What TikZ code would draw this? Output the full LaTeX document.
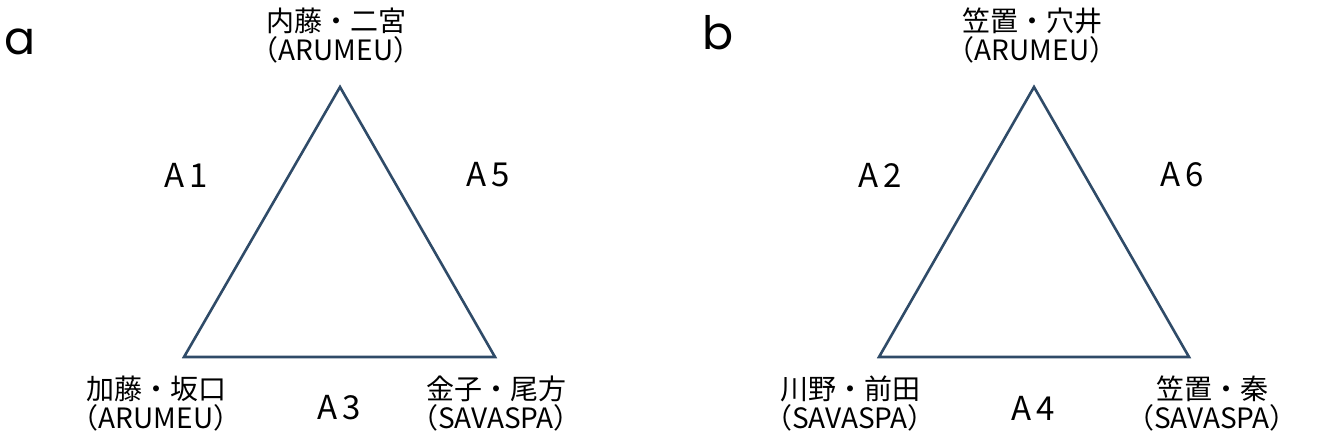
\documentclass[tikz,border=0pt]{standalone}
\usepackage{fontspec}
\setmainfont{Noto Sans CJK JP}
\newfontfamily\panelfont{Poppins}
\usetikzlibrary{positioning}
\definecolor{edgeblue}{HTML}{2F4B68}
\tikzset{
    side/.style={draw=edgeblue, line width=1.3pt, line join=miter},
    member/.style={align=center, inner sep=0pt, font=\fontsize{14}{14.5}\selectfont},
    pair/.style={inner sep=0pt, font=\fontsize{16.5}{16.5}\selectfont},
    panel/.style={inner sep=0pt, anchor=base west, font=\panelfont\fontsize{23}{23}\selectfont},
}

\begin{document}
\begin{tikzpicture}
    [x=0.5pt, y=-0.5pt]
    \useasboundingbox (0,0) rectangle (1322,443);

    % panel a
    \node [panel] (pa) at (4,55) {a};
    \coordinate (a-top) at (340,87);
    \coordinate (a-left) at (184,357);
    \coordinate (a-right) at (495,357);
    \draw [side] (a-top) -- (a-left) -- (a-right) -- cycle;

    \node [member] (a-m1) at (336,36) {内藤・二宮\\（ARUMEU）};
    \node [member] (a-m2) at (156,404) {加藤・坂口\\（ARUMEU）};
    \node [member] (a-m3) at (496,404) {金子・尾方\\（SAVASPA）};

    \node [pair] (a1) at (186,175) {A\,1};
    \node [pair] (a5) at (488,175) {A\,5};
    \node [pair] (a3) at (339,408) {A\,3};

    % panel b
    \node [panel] (pb) at (702,50) {b};
    \coordinate (b-top) at (1034,87);
    \coordinate (b-left) at (879,357);
    \coordinate (b-right) at (1189,357);
    \draw [side] (b-top) -- (b-left) -- (b-right) -- cycle;

    \node [member] (b-m1) at (1032,36) {笠置・穴井\\（ARUMEU）};
    \node [member] (b-m2) at (850,404) {川野・前田\\（SAVASPA）};
    \node [member] (b-m3) at (1212,404) {笠置・秦\\（SAVASPA）};

    \node [pair] (a2) at (880,175) {A\,2};
    \node [pair] (a6) at (1182,175) {A\,6};
    \node [pair] (a4) at (1033,408) {A\,4};

\end{tikzpicture}
\end{document}
